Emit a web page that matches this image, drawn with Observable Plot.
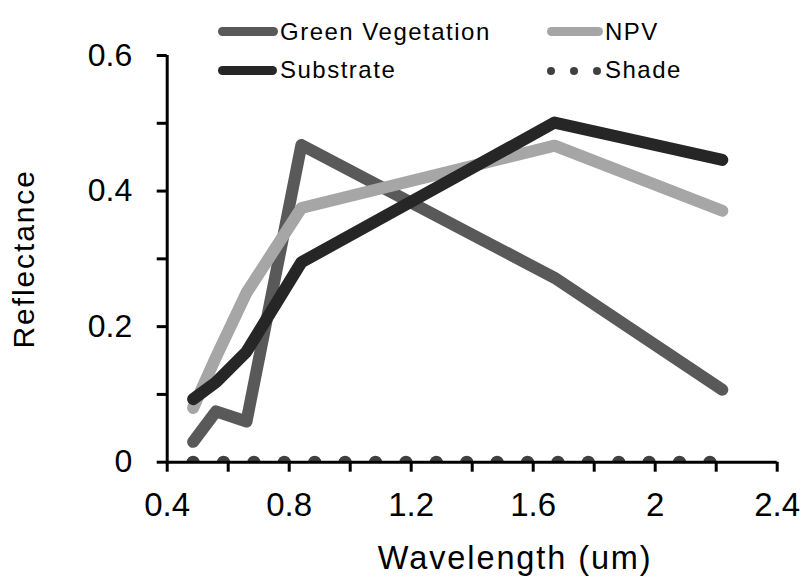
<!DOCTYPE html>
<html>
<head>
<meta charset="utf-8">
<script src="https://cdn.jsdelivr.net/npm/d3@7"></script>
<script src="https://cdn.jsdelivr.net/npm/@observablehq/plot@0.6"></script>
<style>
  html, body { margin: 0; padding: 0; background: #fff; }
  #chart { position: relative; width: 802px; height: 577px; font-family: "Liberation Sans", Arial, sans-serif; }
  #chart svg { position: absolute; left: 0; top: 0; }
  .lg { position: absolute; }
  .lg-text { position: absolute; font-size: 24px; line-height: 24px; letter-spacing: 1.5px; color: #000; white-space: nowrap; }
</style>
</head>
<body>
<div id="chart"></div>
<script>
// ---- data ----
const wavelengths = [0.485, 0.56, 0.66, 0.84, 1.67, 2.22];
const greenVegetation = [0.03, 0.075, 0.06, 0.468, 0.272, 0.107];
const npv = [0.08, 0.155, 0.25, 0.375, 0.467, 0.371];
const substrate = [0.093, 0.118, 0.163, 0.295, 0.501, 0.446];
const shade = [0, 0, 0, 0, 0, 0];
const seriesNames = ["Green Vegetation", "NPV", "Substrate", "Shade"];
const xTicks = [0.4, 0.8, 1.2, 1.6, 2, 2.4];
const xTickLabels = ["0.4", "0.8", "1.2", "1.6", "2", "2.4"];
const xMinorTicks = [0.6, 1.0, 1.4, 1.8, 2.2];
const yTicks = [0, 0.2, 0.4, 0.6];
const yTickLabels = ["0", "0.2", "0.4", "0.6"];
const yMinorTicks = [0.1, 0.3, 0.5];
const xDomain = [0.4, 2.4];
const yDomain = [0, 0.6];
const xTitle = "Wavelength (um)";
const yTitle = "Reflectance";

// ---- styles ----
const seriesValues = [greenVegetation, npv, substrate, shade];
const seriesColors = ["#595959", "#a6a6a6", "#262626", "#404040"];

const rows = seriesNames.flatMap((name, s) =>
  wavelengths.map((w, i) => ({series: name, x: w, y: seriesValues[s][i]})));

const lineMarks = seriesNames.slice(0, 3).map((name, s) =>
  Plot.line(rows.filter(d => d.series === name), {
    x: "x", y: "y", stroke: seriesColors[s], strokeWidth: 12,
    strokeLinecap: "round", strokeLinejoin: "round"
  }));

const shadeMark = Plot.line(rows.filter(d => d.series === "Shade"), {
  x: "x", y: "y", stroke: seriesColors[3], strokeWidth: 13,
  strokeDasharray: "0 30.4", strokeLinecap: "round", clip: true
});

const allX = xTicks.concat(xMinorTicks);
const allY = yTicks.concat(yMinorTicks);

const chart = Plot.plot({
  width: 802,
  height: 577,
  marginLeft: 166.7,
  marginRight: 25.3,
  marginTop: 55,
  marginBottom: 115.3,
  style: {fontFamily: "Liberation Sans, Arial, sans-serif", fontSize: "32px", color: "#000", background: "transparent"},
  x: {domain: xDomain},
  y: {domain: yDomain},
  marks: [
    ...lineMarks,
    shadeMark,
    Plot.ruleX([xDomain[0]], {stroke: "#000", strokeWidth: 3}),
    Plot.ruleY([yDomain[0]], {stroke: "#000", strokeWidth: 3}),
    Plot.axisX(allX, {
      tickSize: 10, tickPadding: 20, strokeWidth: 3, fontSize: 33,
      tickFormat: d => { const k = xTicks.indexOf(d); return k >= 0 ? xTickLabels[k] : ""; },
      label: null
    }),
    Plot.axisY(allY, {
      tickSize: 10, tickPadding: 25, strokeWidth: 3, fontSize: 32,
      tickFormat: d => { const k = yTicks.indexOf(d); return k >= 0 ? yTickLabels[k] : ""; },
      label: null
    }),
    Plot.text([xTitle], {text: d => d, frameAnchor: "bottom", lineAnchor: "bottom", textAnchor: "middle",
      dx: 43, dy: 106.3, fontSize: 32.5, fill: "#000"}),
    Plot.text([yTitle], {text: d => d, frameAnchor: "left", lineAnchor: "bottom", textAnchor: "middle", rotate: -90,
      dx: -133.7, fontSize: 30, fill: "#000"})
  ]
});

d3.select(chart).selectAll("text").filter(function() { return this.textContent === xTitle; })
  .style("letter-spacing", "1.9px");
d3.select(chart).selectAll("text").filter(function() { return this.textContent === yTitle; })
  .style("letter-spacing", "1.9px");

const root = document.getElementById("chart");
root.appendChild(chart);

// ---- legend (HTML overlay) ----
const legendLayout = [
  {swatchLeft: 218, swatchW: 60, cy: 31.7, textLeft: 280, baseline: 40},
  {swatchLeft: 547, swatchW: 56, cy: 31.7, textLeft: 605, baseline: 40},
  {swatchLeft: 218, swatchW: 59, cy: 70.7, textLeft: 280, baseline: 78.3},
  {dots: [550.7, 574, 597.3], cy: 70.7, textLeft: 605, baseline: 78.3}
];
seriesNames.forEach((name, s) => {
  const L = legendLayout[s];
  if (L.dots) {
    L.dots.forEach(cx => {
      const dot = document.createElement("div");
      dot.className = "lg";
      const r = 4.2;
      Object.assign(dot.style, {left: (cx - r) + "px", top: (L.cy - r) + "px", width: 2 * r + "px",
        height: 2 * r + "px", borderRadius: "50%", background: seriesColors[s]});
      root.appendChild(dot);
    });
  } else {
    const sw = document.createElement("div");
    sw.className = "lg";
    const h = 9;
    Object.assign(sw.style, {left: L.swatchLeft + "px", top: (L.cy - h / 2) + "px", width: L.swatchW + "px",
      height: h + "px", borderRadius: (h / 2) + "px", background: seriesColors[s]});
    root.appendChild(sw);
  }
  const t = document.createElement("div");
  t.className = "lg-text";
  t.textContent = name;
  t.style.left = L.textLeft + "px";
  t.style.top = (L.baseline - 20.3) + "px";
  root.appendChild(t);
});
</script>
</body>
</html>
